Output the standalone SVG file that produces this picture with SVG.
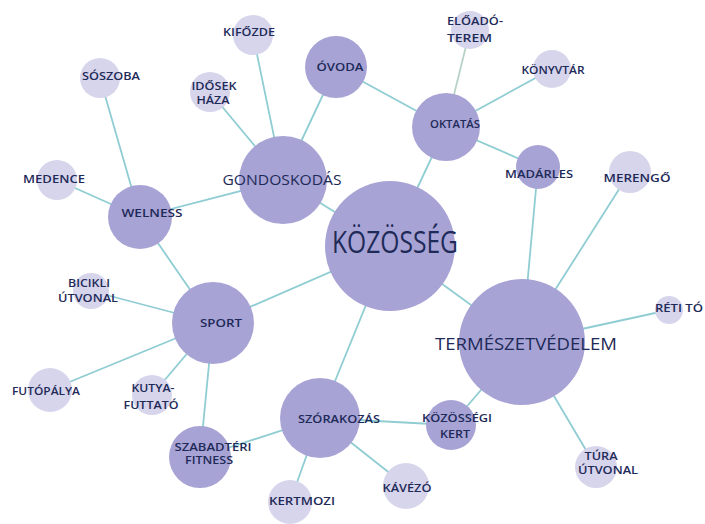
<svg xmlns="http://www.w3.org/2000/svg" width="705" height="524" viewBox="0 0 705 524">
<style>
.e{stroke:#8fcdd3;stroke-width:1.8;fill:none}
.m{fill:#a7a3d5}
.l{fill:#d7d5ec}
text{font-family:"Open Sans","Noto Sans",sans-serif;fill:#1e2a58;text-anchor:middle}
.s{font-size:11px;font-weight:600}
.t{font-size:10px;font-weight:600}
.b{font-size:15px}
</style>
<rect width="705" height="524" fill="#ffffff"/>
<g id="connectors">
<line class="e" x1="390" y1="246" x2="283" y2="180"/>
<line class="e" x1="390" y1="246" x2="446" y2="127"/>
<line class="e" x1="390" y1="246" x2="213" y2="323"/>
<line class="e" x1="390" y1="246" x2="320" y2="418"/>
<line class="e" x1="390" y1="246" x2="522" y2="342"/>
<line class="e" x1="283" y1="180" x2="253" y2="35"/>
<line class="e" x1="283" y1="180" x2="210" y2="92"/>
<line class="e" x1="283" y1="180" x2="336" y2="67"/>
<line class="e" x1="283" y1="180" x2="140" y2="217"/>
<line class="e" x1="140" y1="217" x2="100" y2="78"/>
<line class="e" x1="140" y1="217" x2="57" y2="180"/>
<line class="e" x1="140" y1="217" x2="213" y2="323"/>
<line class="e" x1="446" y1="127" x2="336" y2="67"/>
<line class="e" x1="446" y1="127" x2="470" y2="30" style="stroke:#b9d2c8"/>
<line class="e" x1="446" y1="127" x2="552" y2="69"/>
<line class="e" x1="446" y1="127" x2="538" y2="167"/>
<line class="e" x1="522" y1="342" x2="538" y2="167"/>
<line class="e" x1="522" y1="342" x2="630" y2="172"/>
<line class="e" x1="522" y1="342" x2="669" y2="310"/>
<line class="e" x1="522" y1="342" x2="596" y2="467"/>
<line class="e" x1="522" y1="342" x2="451" y2="425"/>
<line class="e" x1="213" y1="323" x2="91" y2="291"/>
<line class="e" x1="213" y1="323" x2="50" y2="390"/>
<line class="e" x1="213" y1="323" x2="152" y2="395"/>
<line class="e" x1="213" y1="323" x2="200" y2="457"/>
<line class="e" x1="320" y1="418" x2="200" y2="457"/>
<line class="e" x1="320" y1="418" x2="290" y2="502"/>
<line class="e" x1="320" y1="418" x2="406" y2="486"/>
<line class="e" x1="320" y1="418" x2="451" y2="425"/>
</g>
<g id="kozosseg"><circle class="m" cx="390" cy="246" r="65"/><text x="395" y="253" font-size="31" textLength="126" lengthAdjust="spacingAndGlyphs">KÖZÖSSÉG</text></g>
<g id="termeszetvedelem"><circle class="m" cx="522" cy="342" r="63"/><text x="526" y="350" font-size="17" textLength="182" lengthAdjust="spacingAndGlyphs">TERMÉSZETVÉDELEM</text></g>
<g id="gondoskodas"><circle class="m" cx="283" cy="180" r="44"/><text class="b" x="282" y="185" textLength="119" lengthAdjust="spacingAndGlyphs">GONDOSKODÁS</text></g>
<g id="sport"><circle class="m" cx="213" cy="323" r="41"/><text class="s" x="221" y="327" textLength="42" lengthAdjust="spacingAndGlyphs">SPORT</text></g>
<g id="szorakozas"><circle class="m" cx="320" cy="418" r="40"/><text class="s" x="339" y="423" textLength="82" lengthAdjust="spacingAndGlyphs">SZÓRAKOZÁS</text></g>
<g id="oktatas"><circle class="m" cx="446" cy="127" r="34"/><text class="s" x="455" y="128" textLength="50" lengthAdjust="spacingAndGlyphs">OKTATÁS</text></g>
<g id="welness"><circle class="m" cx="140" cy="217" r="32"/><text class="s" x="152" y="217" textLength="61" lengthAdjust="spacingAndGlyphs">WELNESS</text></g>
<g id="ovoda"><circle class="m" cx="336" cy="67" r="31"/><text class="s" x="340" y="71" textLength="47" lengthAdjust="spacingAndGlyphs">ÓVODA</text></g>
<g id="szabadteri-fitness"><circle class="m" cx="200" cy="457" r="31"/><text class="t" x="213" y="451" textLength="77" lengthAdjust="spacingAndGlyphs">SZABADTÉRI</text><text class="t" x="209" y="464" textLength="48" lengthAdjust="spacingAndGlyphs">FITNESS</text></g>
<g id="kozossegi-kert"><circle class="m" cx="451" cy="425" r="25"/><text class="s" x="457" y="422" textLength="70" lengthAdjust="spacingAndGlyphs">KÖZÖSSÉGI</text><text class="s" x="455" y="438" textLength="30" lengthAdjust="spacingAndGlyphs">KERT</text></g>
<g id="madarles"><circle class="m" cx="538" cy="167" r="22"/><text class="s" x="539" y="178" textLength="68" lengthAdjust="spacingAndGlyphs">MADÁRLES</text></g>
<g id="kifozde"><circle class="l" cx="253" cy="35" r="20"/><text class="s" x="249" y="36" textLength="52" lengthAdjust="spacingAndGlyphs">KIFŐZDE</text></g>
<g id="soszoba"><circle class="l" cx="100" cy="78" r="20"/><text class="s" x="111" y="80" textLength="58" lengthAdjust="spacingAndGlyphs">SÓSZOBA</text></g>
<g id="idosek-haza"><circle class="l" cx="210" cy="92" r="20"/><text class="t" x="214" y="90" textLength="45" lengthAdjust="spacingAndGlyphs">IDŐSEK</text><text class="t" x="213" y="104" textLength="33" lengthAdjust="spacingAndGlyphs">HÁZA</text></g>
<g id="medence"><circle class="l" cx="57" cy="180" r="20"/><text class="s" x="54" y="183" textLength="62" lengthAdjust="spacingAndGlyphs">MEDENCE</text></g>
<g id="eloadoterem"><circle class="l" cx="470" cy="30" r="19"/><text class="s" x="447" y="25" style="text-anchor:start" textLength="56" lengthAdjust="spacingAndGlyphs">ELŐADÓ-</text><text class="s" x="447" y="42" style="text-anchor:start" textLength="45" lengthAdjust="spacingAndGlyphs">TEREM</text></g>
<g id="konyvtar"><circle class="l" cx="552" cy="69" r="19"/><text class="s" x="553" y="74" textLength="63" lengthAdjust="spacingAndGlyphs">KÖNYVTÁR</text></g>
<g id="merengo"><circle class="l" cx="630" cy="172" r="21"/><text class="s" x="637" y="182" textLength="67" lengthAdjust="spacingAndGlyphs">MERENGŐ</text></g>
<g id="reti-to"><circle class="l" cx="669" cy="310" r="14"/><text class="s" x="679" y="312" textLength="48" lengthAdjust="spacingAndGlyphs">RÉTI TÓ</text></g>
<g id="tura-utvonal"><circle class="l" cx="596" cy="467" r="21"/><text class="t" x="601" y="460" textLength="33" lengthAdjust="spacingAndGlyphs">TÚRA</text><text class="t" x="608" y="474" textLength="60" lengthAdjust="spacingAndGlyphs">ÚTVONAL</text></g>
<g id="kavezo"><circle class="l" cx="406" cy="486" r="23"/><text class="s" x="407" y="492" textLength="49" lengthAdjust="spacingAndGlyphs">KÁVÉZÓ</text></g>
<g id="kertmozi"><circle class="l" cx="290" cy="502" r="22"/><text class="s" x="302" y="505" textLength="66" lengthAdjust="spacingAndGlyphs">KERTMOZI</text></g>
<g id="futopalya"><circle class="l" cx="50" cy="390" r="22"/><text class="s" x="46" y="395" textLength="68" lengthAdjust="spacingAndGlyphs">FUTÓPÁLYA</text></g>
<g id="kutyafuttato"><circle class="l" cx="152" cy="395" r="20"/><text class="s" x="153" y="392" textLength="43" lengthAdjust="spacingAndGlyphs">KUTYA-</text><text class="s" x="151" y="409" textLength="55" lengthAdjust="spacingAndGlyphs">FUTTATÓ</text></g>
<g id="bicikli-utvonal"><circle class="l" cx="91" cy="291" r="18"/><text class="s" x="89" y="287" textLength="42" lengthAdjust="spacingAndGlyphs">BICIKLI</text><text class="s" x="88" y="302" textLength="60" lengthAdjust="spacingAndGlyphs">ÚTVONAL</text></g>
</svg>
